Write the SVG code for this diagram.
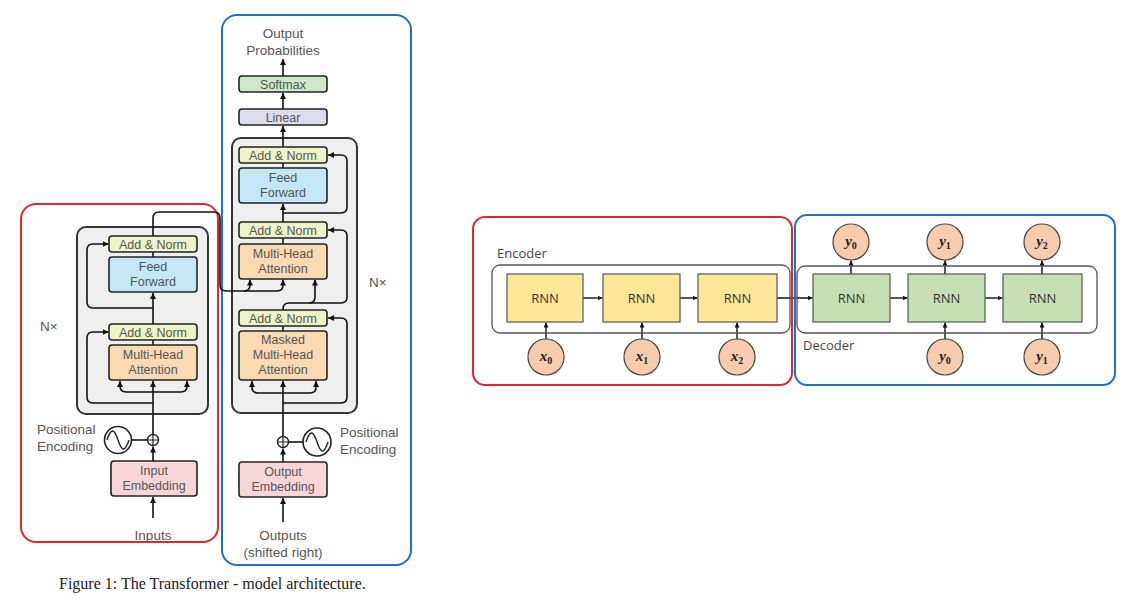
<svg xmlns="http://www.w3.org/2000/svg" width="1129" height="603" viewBox="0 0 1129 603">
<defs>
<marker id="ah" viewBox="0 0 10 10" refX="10" refY="5" markerWidth="6" markerHeight="6" markerUnits="userSpaceOnUse" orient="auto"><path d="M0,0 L10,5 L0,10 z" fill="#111"/></marker>
<marker id="ah2" viewBox="0 0 10 10" refX="10" refY="5" markerWidth="5" markerHeight="5" markerUnits="userSpaceOnUse" orient="auto"><path d="M0,0 L10,5 L0,10 z" fill="#111"/></marker>
<style>
.frameR{fill:none;stroke:#e5262d;stroke-width:2}
.frameB{fill:none;stroke:#1f72bd;stroke-width:2}
.stack{fill:#efefef;stroke:#333;stroke-width:2}
.blk{stroke:#222;stroke-width:1.6}
.an{fill:#eff4c8}
.ff{fill:#c3e7f6}
.mha{fill:#fbd9b1}
.emb{fill:#f8d5d8}
.sm{fill:#cde8c9}
.lin{fill:#dcdced}
.lbl{font-family:"Liberation Sans",Arial,sans-serif;font-size:12.5px;fill:#555;text-anchor:middle}
.side{font-family:"Liberation Sans",Arial,sans-serif;font-size:13.5px;fill:#555}
.wire{fill:none;stroke:#111;stroke-width:1.6}
.wire2{fill:none;stroke:#111;stroke-width:1.4}
.cont{fill:none;stroke:#555;stroke-width:1.3}
.rnnE{fill:#ffe699;stroke:#555;stroke-width:1.2}
.rnnD{fill:#c5e0b4;stroke:#555;stroke-width:1.2}
.tok{fill:#f8cbad;stroke:#444;stroke-width:1.2}
.rnnT{font-family:"Open Sans","Liberation Sans",sans-serif;font-size:13px;fill:#333;text-anchor:middle}
.tokT{font-family:"Liberation Serif","Times New Roman",serif;font-size:15px;font-weight:bold;font-style:italic;fill:#222;text-anchor:middle}
.sub{font-size:10px;font-style:normal;font-weight:bold}
.cap{font-family:"Open Sans","Liberation Sans",sans-serif;font-size:13px;fill:#444}
</style>
</defs>

<!-- frames -->
<g id="frame-encoder-transformer"><rect class="frameR" x="21" y="204" width="197" height="338" rx="15"/></g>
<g id="frame-decoder-transformer"><rect class="frameB" x="222" y="15" width="189" height="550" rx="15"/></g>

<!-- stacks -->
<g id="enc-stack"><rect class="stack" x="77" y="227" width="131" height="187" rx="9"/><text class="side" x="40" y="331">N×</text></g>
<g id="dec-stack"><rect class="stack" x="232" y="138" width="125" height="275" rx="9"/><text class="side" x="369" y="287">N×</text></g>

<!-- connectors -->
<g id="connectors">
<!-- encoder -->
<path class="wire" d="M153,518 V497" marker-end="url(#ah)"/>
<path class="wire" d="M153,461 V446.5" marker-end="url(#ah)"/>
<path class="wire" d="M131.5,440 H147.5"/>
<path class="wire" d="M153,434.5 V381" marker-end="url(#ah)"/>
<path class="wire" d="M153,392 H126 Q120,392 120,386 V381" marker-end="url(#ah)"/>
<path class="wire" d="M153,392 H181 Q187,392 187,386 V381" marker-end="url(#ah)"/>
<path class="wire" d="M153,403 H93 Q87,403 87,397 V338 Q87,332 93,332 H108.5" marker-end="url(#ah)"/>
<path class="wire" d="M153,345 V340"/>
<path class="wire" d="M153,324 V293" marker-end="url(#ah)"/>
<path class="wire" d="M153,308 H93 Q87,308 87,302 V250 Q87,244 93,244 H108.5" marker-end="url(#ah)"/>
<path class="wire" d="M153,257 V252"/>
<path class="wire" d="M153,236 V218 Q153,212 159,212 H214 Q220,212 220,218 V285 Q220,291 226,291 H277 Q283,291 283,285 V279.5" marker-end="url(#ah)"/>
<path class="wire" d="M244,291 Q250,291 250,285 V279.5" marker-end="url(#ah)"/>
<!-- decoder -->
<path class="wire" d="M283,522 V498" marker-end="url(#ah)"/>
<path class="wire" d="M283,462 V448.5" marker-end="url(#ah)"/>
<path class="wire" d="M288.5,442 H303"/>
<path class="wire" d="M283,436.5 V381" marker-end="url(#ah)"/>
<path class="wire" d="M283,393 H258 Q252,393 252,387 V381" marker-end="url(#ah)"/>
<path class="wire" d="M283,393 H310 Q316,393 316,387 V381" marker-end="url(#ah)"/>
<path class="wire" d="M283,403 H341 Q347,403 347,397 V324 Q347,318 341,318 H328" marker-end="url(#ah)"/>
<path class="wire" d="M283,331 V326"/>
<path class="wire" d="M283,310 V309 Q283,303 289,303 H341 Q347,303 347,297 V236 Q347,230 341,230 H328" marker-end="url(#ah)"/>
<path class="wire" d="M309,303 Q315,303 315,297 V279.5" marker-end="url(#ah)"/>
<path class="wire" d="M283,244 V238"/>
<path class="wire" d="M283,222 V204" marker-end="url(#ah)"/>
<path class="wire" d="M283,213 H341 Q347,213 347,207 V161 Q347,155 341,155 H328" marker-end="url(#ah)"/>
<path class="wire" d="M283,168 V163"/>
<path class="wire" d="M283,147 V126" marker-end="url(#ah)"/>
<path class="wire" d="M283,109 V93" marker-end="url(#ah)"/>
<path class="wire" d="M283,76 V59" marker-end="url(#ah)"/>
<!-- RNN diagram -->
<path class="wire2" d="M583,298 H602.5" marker-end="url(#ah2)"/>
<path class="wire2" d="M680,298 H697.5" marker-end="url(#ah2)"/>
<path class="wire2" d="M777,298 H812.5" marker-end="url(#ah2)"/>
<path class="wire2" d="M890,298 H907.5" marker-end="url(#ah2)"/>
<path class="wire2" d="M985,298 H1002.5" marker-end="url(#ah2)"/>
<path class="wire2" d="M546,339 V322.5" marker-end="url(#ah2)"/>
<path class="wire2" d="M642,339 V322.5" marker-end="url(#ah2)"/>
<path class="wire2" d="M737,339 V322.5" marker-end="url(#ah2)"/>
<path class="wire2" d="M945,339 V322.5" marker-end="url(#ah2)"/>
<path class="wire2" d="M1042,339 V322.5" marker-end="url(#ah2)"/>
<path class="wire2" d="M851,274 V260.5" marker-end="url(#ah2)"/>
<path class="wire2" d="M945,274 V260.5" marker-end="url(#ah2)"/>
<path class="wire2" d="M1042,274 V260.5" marker-end="url(#ah2)"/>
</g>

<!-- encoder nodes -->
<g id="enc-addnorm2"><rect class="blk an" x="109" y="236" width="88" height="16" rx="3"/><text class="lbl" x="153" y="248.5">Add &amp; Norm</text></g>
<g id="enc-ff"><rect class="blk ff" x="109" y="257" width="88" height="35" rx="3"/><text class="lbl" x="153" y="271">Feed</text><text class="lbl" x="153" y="286">Forward</text></g>
<g id="enc-addnorm1"><rect class="blk an" x="109" y="324" width="88" height="16" rx="3"/><text class="lbl" x="153" y="336.5">Add &amp; Norm</text></g>
<g id="enc-mha"><rect class="blk mha" x="109" y="345" width="88" height="35" rx="3"/><text class="lbl" x="153" y="359">Multi-Head</text><text class="lbl" x="153" y="374">Attention</text></g>
<g id="enc-pe">
<circle cx="118" cy="440" r="13.5" fill="#fff" stroke="#222" stroke-width="1.6"/>
<path d="M107,440 C111,428 114,428 118,440 C122,452 125,452 129,440" fill="none" stroke="#222" stroke-width="1.4"/>
<text class="side" x="37" y="434">Positional</text><text class="side" x="37" y="451">Encoding</text>
</g>
<g id="enc-plus"><circle cx="153" cy="440" r="5.5" fill="#fff" stroke="#222" stroke-width="1.4"/><path d="M147.5,440 H158.5 M153,434.5 V445.5" stroke="#222" stroke-width="1.2"/></g>
<g id="enc-emb"><rect class="blk emb" x="111" y="461" width="86" height="35" rx="3"/><text class="lbl" x="154" y="475">Input</text><text class="lbl" x="154" y="490">Embedding</text></g>
<g id="inputs"><text class="side" x="153" y="540" text-anchor="middle">Inputs</text></g>

<!-- decoder nodes -->
<g id="out-prob"><text class="side" x="283" y="38" text-anchor="middle">Output</text><text class="side" x="283" y="55" text-anchor="middle">Probabilities</text></g>
<g id="dec-softmax"><rect class="blk sm" x="239" y="76" width="88" height="16" rx="3"/><text class="lbl" x="283" y="88.5">Softmax</text></g>
<g id="dec-linear"><rect class="blk lin" x="239" y="109" width="88" height="16" rx="3"/><text class="lbl" x="283" y="121.5">Linear</text></g>
<g id="dec-addnorm3"><rect class="blk an" x="239" y="147" width="88" height="16" rx="3"/><text class="lbl" x="283" y="159.5">Add &amp; Norm</text></g>
<g id="dec-ff"><rect class="blk ff" x="239" y="168" width="88" height="35" rx="3"/><text class="lbl" x="283" y="182">Feed</text><text class="lbl" x="283" y="197">Forward</text></g>
<g id="dec-addnorm2"><rect class="blk an" x="239" y="222" width="88" height="16" rx="3"/><text class="lbl" x="283" y="234.5">Add &amp; Norm</text></g>
<g id="dec-mha"><rect class="blk mha" x="239" y="244" width="88" height="35" rx="3"/><text class="lbl" x="283" y="258">Multi-Head</text><text class="lbl" x="283" y="273">Attention</text></g>
<g id="dec-addnorm1"><rect class="blk an" x="239" y="310" width="88" height="16" rx="3"/><text class="lbl" x="283" y="322.5">Add &amp; Norm</text></g>
<g id="dec-masked"><rect class="blk mha" x="239" y="331" width="88" height="49" rx="3"/><text class="lbl" x="283" y="344">Masked</text><text class="lbl" x="283" y="359">Multi-Head</text><text class="lbl" x="283" y="374">Attention</text></g>
<g id="dec-plus"><circle cx="283" cy="442" r="5.5" fill="#fff" stroke="#222" stroke-width="1.4"/><path d="M277.5,442 H288.5 M283,436.5 V447.5" stroke="#222" stroke-width="1.2"/></g>
<g id="dec-pe">
<circle cx="317" cy="442" r="14" fill="#fff" stroke="#222" stroke-width="1.6"/>
<path d="M306,442 C310,430 313,430 317,442 C321,454 324,454 328,442" fill="none" stroke="#222" stroke-width="1.4"/>
<text class="side" x="340" y="437">Positional</text><text class="side" x="340" y="454">Encoding</text>
</g>
<g id="dec-emb"><rect class="blk emb" x="239" y="462" width="88" height="35" rx="3"/><text class="lbl" x="283" y="476">Output</text><text class="lbl" x="283" y="491">Embedding</text></g>
<g id="outputs"><text class="side" x="283" y="540" text-anchor="middle">Outputs</text><text class="side" x="283" y="557" text-anchor="middle">(shifted right)</text></g>

<g id="caption"><text x="59" y="589" font-family="Liberation Serif,'Times New Roman',serif" font-size="16" fill="#222">Figure 1: The Transformer - model architecture.</text></g>

<!-- RNN diagram -->
<g id="frame-encoder-rnn"><rect class="frameR" x="473" y="217" width="319" height="168" rx="12"/></g>
<g id="frame-decoder-rnn"><rect class="frameB" x="795" y="215" width="320" height="170" rx="12"/></g>
<g id="rnn-enc-container"><rect class="cont" x="492" y="265" width="298" height="68" rx="8"/><text class="cap" x="497" y="258">Encoder</text></g>
<g id="rnn-dec-container"><rect class="cont" x="797" y="266" width="300" height="67" rx="8"/><text class="cap" x="803" y="350">Decoder</text></g>
<g id="rnn-e0"><rect class="rnnE" x="507" y="274" width="76" height="48"/><text class="rnnT" x="545" y="303">RNN</text></g>
<g id="rnn-e1"><rect class="rnnE" x="603" y="274" width="77" height="48"/><text class="rnnT" x="641.5" y="303">RNN</text></g>
<g id="rnn-e2"><rect class="rnnE" x="698" y="274" width="79" height="48"/><text class="rnnT" x="737.5" y="303">RNN</text></g>
<g id="rnn-d0"><rect class="rnnD" x="813" y="274" width="77" height="48"/><text class="rnnT" x="851.5" y="303">RNN</text></g>
<g id="rnn-d1"><rect class="rnnD" x="908" y="274" width="77" height="48"/><text class="rnnT" x="946.5" y="303">RNN</text></g>
<g id="rnn-d2"><rect class="rnnD" x="1003" y="274" width="79" height="48"/><text class="rnnT" x="1042.5" y="303">RNN</text></g>
<g id="tok-x0"><circle class="tok" cx="546" cy="357" r="18"/><text class="tokT" x="546" y="361">x<tspan class="sub" dy="3">0</tspan></text></g>
<g id="tok-x1"><circle class="tok" cx="642" cy="357" r="18"/><text class="tokT" x="642" y="361">x<tspan class="sub" dy="3">1</tspan></text></g>
<g id="tok-x2"><circle class="tok" cx="737" cy="357" r="18"/><text class="tokT" x="737" y="361">x<tspan class="sub" dy="3">2</tspan></text></g>
<g id="tok-y0-out"><circle class="tok" cx="851" cy="242" r="18"/><text class="tokT" x="851" y="246">y<tspan class="sub" dy="3">0</tspan></text></g>
<g id="tok-y1-out"><circle class="tok" cx="945" cy="242" r="18"/><text class="tokT" x="945" y="246">y<tspan class="sub" dy="3">1</tspan></text></g>
<g id="tok-y2-out"><circle class="tok" cx="1042" cy="242" r="18"/><text class="tokT" x="1042" y="246">y<tspan class="sub" dy="3">2</tspan></text></g>
<g id="tok-y0-in"><circle class="tok" cx="945" cy="357" r="18"/><text class="tokT" x="945" y="361">y<tspan class="sub" dy="3">0</tspan></text></g>
<g id="tok-y1-in"><circle class="tok" cx="1042" cy="357" r="18"/><text class="tokT" x="1042" y="361">y<tspan class="sub" dy="3">1</tspan></text></g>
</svg>
